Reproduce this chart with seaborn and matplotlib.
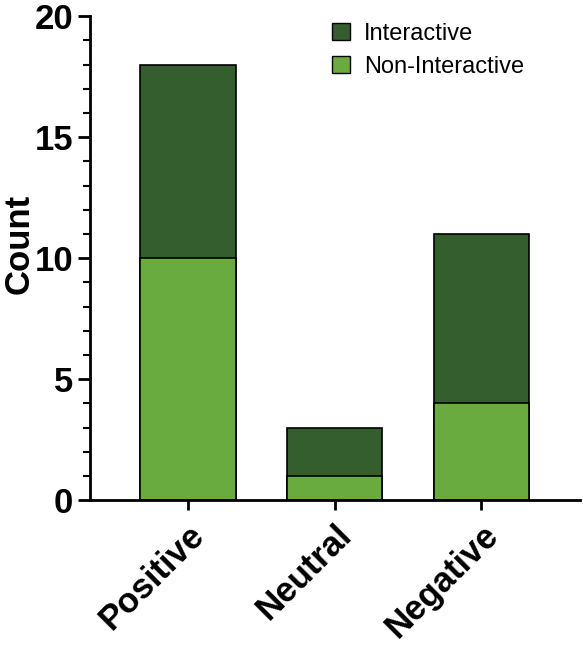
import numpy as np
import pandas as pd
import matplotlib
matplotlib.use('Agg')
import matplotlib.pyplot as plt
import seaborn as sns
from matplotlib.patches import Patch
from matplotlib.ticker import MultipleLocator

# data
categories = ['Positive', 'Neutral', 'Negative']
non_interactive = [10, 1, 4]
interactive = [8, 2, 7]

DARK = '#355E2F'
LIGHT = '#6AAB3F'

sns.set_theme(style='ticks')
plt.rcParams['font.family'] = ['Liberation Sans', 'DejaVu Sans']
plt.rcParams.update({'text.color': 'black', 'axes.labelcolor': 'black',
                     'xtick.color': 'black', 'ytick.color': 'black',
                     'axes.edgecolor': 'black'})

df = pd.DataFrame({'category': categories,
                   'non': non_interactive,
                   'inter': interactive})
df['total'] = df['non'] + df['inter']

fig = plt.figure(figsize=(5.83, 6.47), dpi=100)
ax = fig.add_axes([0.154, 0.227, 0.84, 0.748])

# stacked: total in dark, non-interactive overlaid in light
sns.barplot(data=df, x='category', y='total', color=DARK, width=0.65,
            edgecolor='black', linewidth=1.2, saturation=1, ax=ax)
sns.barplot(data=df, x='category', y='non', color=LIGHT, width=0.65,
            edgecolor='black', linewidth=1.2, saturation=1, ax=ax)

ax.set_ylim(0, 20)
ax.set_xlim(-0.67, 2.67)
ax.yaxis.set_major_locator(MultipleLocator(5))
ax.yaxis.set_minor_locator(MultipleLocator(1))

ax.set_xlabel('')
ax.set_ylabel('Count', fontsize=25, fontweight='bold')
ax.yaxis.set_label_coords(-0.11, 0.53)

for s in ['top', 'right']:
    ax.spines[s].set_visible(False)
for s in ['left', 'bottom']:
    ax.spines[s].set_linewidth(2)

ax.tick_params(axis='y', which='major', length=9, width=2, labelsize=25, pad=3)
ax.tick_params(axis='y', which='minor', length=5, width=1.5)
ax.tick_params(axis='x', which='major', length=7, width=2, labelsize=25, pad=6)
for lab in ax.get_yticklabels():
    lab.set_fontweight('bold')
for lab in ax.get_xticklabels():
    lab.set_fontweight('bold')
    lab.set_rotation(45)
    lab.set_ha('right')
    lab.set_rotation_mode('anchor')

handles = [Patch(facecolor=DARK, edgecolor='black', label='Interactive'),
           Patch(facecolor=LIGHT, edgecolor='black', label='Non-Interactive')]
ax.legend(handles=handles, loc='upper right', bbox_to_anchor=(0.93, 1.03),
          frameon=False, fontsize=17, handlelength=0.75, handleheight=0.75,
          handletextpad=0.6, labelspacing=0.45)

fig.savefig('out.png', dpi=100)
